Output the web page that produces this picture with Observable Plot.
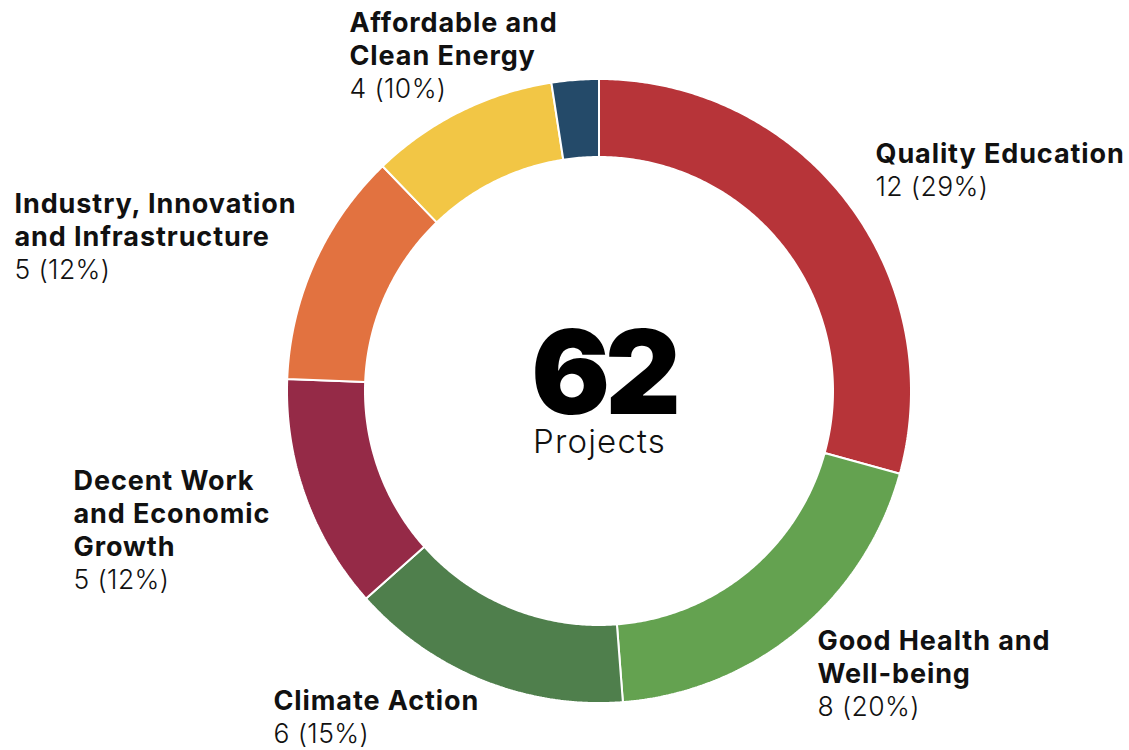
<!DOCTYPE html>
<html>
<head>
<meta charset="utf-8">
<script src="https://cdn.jsdelivr.net/npm/d3@7"></script>
<script src="https://cdn.jsdelivr.net/npm/@observablehq/plot@0.6"></script>
<style>
  html, body { margin: 0; padding: 0; background: #ffffff; }
  #chart { width: 1129px; height: 750px; }
</style>
</head>
<body>
<div id="chart"></div>
<script>
// ---- Data ----
const categories = [
  "Quality Education",
  "Good Health and Well-being",
  "Climate Action",
  "Decent Work and Economic Growth",
  "Industry, Innovation and Infrastructure",
  "Affordable and Clean Energy",
  "Other"
];
const counts = [12, 8, 6, 5, 5, 4, 1];
const percentLabels = ["29%", "20%", "15%", "12%", "12%", "10%", ""];
const nameLines = [
  "Quality Education",
  "Good Health and\nWell-being",
  "Climate Action",
  "Decent Work\nand Economic\nGrowth",
  "Industry, Innovation\nand Infrastructure",
  "Affordable and\nClean Energy",
  ""
];
const sliceColors = ["#B73439", "#64A250", "#4F7F4C", "#952A47", "#E27240", "#F2C645", "#244A69"];
const totalProjects = "62";
const centerCaption = "Projects";

// ---- Layout (pixels) ----
const W = 1129, H = 750;
const cx = 599, cy = 391;
const Ro = 312, Ri = 234;
const lineH = 33;
// left x and baseline of the count line for each labelled slice
const labelPlacement = {
  "Quality Education": [875, 195],
  "Good Health and Well-being": [817, 715],
  "Climate Action": [273, 742],
  "Decent Work and Economic Growth": [73, 588],
  "Industry, Innovation and Infrastructure": [14, 278],
  "Affordable and Clean Energy": [349, 97]
};

// ---- Build ring geometry from the values ----
const total = d3.sum(counts);
const ring = [];
let cum = 0;
categories.forEach((cat, i) => {
  const a0 = cum / total * 2 * Math.PI;
  cum += counts[i];
  const a1 = cum / total * 2 * Math.PI;
  const n = Math.max(2, Math.ceil((a1 - a0) / (Math.PI / 360)));
  for (let k = 0; k <= n; k++) {
    const t = a0 + (a1 - a0) * k / n;
    ring.push({
      cat,
      xo: Ro * Math.sin(t), yo: Ro * Math.cos(t),
      xi: Ri * Math.sin(t), yi: Ri * Math.cos(t)
    });
  }
});

const labels = categories
  .map((cat, i) => ({cat, name: nameLines[i], count: counts[i], pct: percentLabels[i]}))
  .filter(d => labelPlacement[d.cat])
  .map(d => {
    const [px, py] = labelPlacement[d.cat];
    return {...d, x: px - cx, yCount: cy - py, yName: cy - (py - lineH)};
  });

const center = [{text: totalProjects, x: 4, y: cy - 413}];
const caption = [{text: centerCaption, x: 0, y: cy - 452}];

const FONT = "Inter, 'Open Sans', sans-serif";
const nameSize = 27;
const countSize = 26.5;
const totalSize = 117;
const captionSize = 33;

const chart = Plot.plot({
  width: W,
  height: H,
  margin: 0,
  style: {background: "#ffffff", overflow: "visible"},
  x: {domain: [-cx, W - cx], axis: null},
  y: {domain: [-(H - cy), cy], axis: null},
  color: {domain: categories, range: sliceColors},
  marks: [
    Plot.area(ring, {
      x1: "xo", y1: "yo", x2: "xi", y2: "yi",
      z: "cat", fill: "cat",
      stroke: "#ffffff", strokeWidth: 2, strokeLinejoin: "miter"
    }),
    Plot.text(labels, {
      x: "x", y: "yName", text: "name",
      textAnchor: "start", lineAnchor: "bottom", lineHeight: lineH / nameSize,
      fontSize: nameSize, fontWeight: 700, fill: "#111111",
      fontFamily: FONT
    }),
    Plot.text(labels, {
      x: "x", y: "yCount", text: d => `${d.count} (${d.pct})`,
      textAnchor: "start", lineAnchor: "bottom",
      fontSize: countSize, fontWeight: 300, fill: "#111111",
      fontFamily: FONT
    }),
    Plot.text(center, {
      x: "x", y: "y", text: "text",
      textAnchor: "middle", lineAnchor: "bottom",
      fontSize: totalSize, fontWeight: 900, fill: "#000000",
      fontFamily: FONT
    }),
    Plot.text(caption, {
      x: "x", y: "y", text: "text",
      textAnchor: "middle", lineAnchor: "bottom",
      fontSize: captionSize, fontWeight: 300, fill: "#111111",
      fontFamily: FONT
    })
  ]
});

// letter-spacing tweaks to approximate the original geometric typeface
const spacing = new Map([[nameSize, "0.9px"], [countSize, "0.4px"], [totalSize, "-5px"], [captionSize, "1.2px"]]);
chart.querySelectorAll("g").forEach(g => {
  const fs = parseFloat(g.getAttribute("font-size"));
  if (spacing.has(fs)) {
    g.style.letterSpacing = spacing.get(fs);
    g.querySelectorAll("text").forEach(t => t.style.letterSpacing = spacing.get(fs));
  }
});

document.getElementById("chart").appendChild(chart);
</script>
</body>
</html>
